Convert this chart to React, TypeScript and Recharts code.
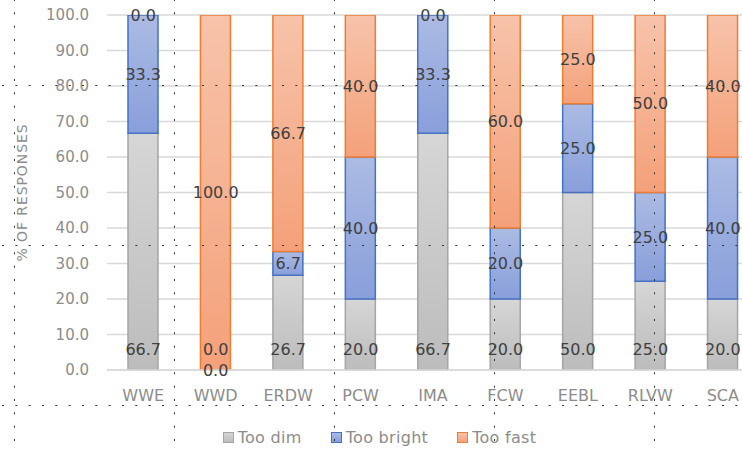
import { ComposedChart, Bar, Line, XAxis, YAxis, CartesianGrid, Legend, LabelList } from 'recharts';

const categories = ['WWE', 'WWD', 'ERDW', 'PCW', 'IMA', 'FCW', 'EEBL', 'RLVW', 'SCA'];
const tooDim = [66.7, 0.0, 26.7, 20.0, 66.7, 20.0, 50.0, 25.0, 20.0];
const tooBright = [33.3, 0.0, 6.7, 40.0, 33.3, 20.0, 25.0, 25.0, 40.0];
const tooFast = [0.0, 100.0, 66.7, 40.0, 0.0, 60.0, 25.0, 50.0, 40.0];
const yTicks = [0, 10, 20, 30, 40, 50, 60, 70, 80, 90, 100];

// label anchors (in data units) so zero-height segments still get their value shown
const data = categories.map((name, i) => ({
  name,
  dim: tooDim[i],
  bright: tooBright[i],
  fast: tooFast[i],
  dimPos: 0,
  brightPos: tooDim[i] + tooBright[i] / 2,
  fastPos: tooDim[i] + tooBright[i] + tooFast[i] / 2,
}));

const SERIES = [
  { key: 'dim', name: 'Too dim', top: '#d6d6d6', bottom: '#bcbcbc', stroke: '#a5a5a5' },
  { key: 'bright', name: 'Too bright', top: '#abbbe3', bottom: '#899fdb', stroke: '#4472c4' },
  { key: 'fast', name: 'Too fast', top: '#f7c3aa', bottom: '#f4a17a', stroke: '#ed7d31' },
];

const FONT = '"DejaVu Sans", sans-serif';
const fmt = (v: any) => Number(v).toFixed(1);

function YLabel(props: any) {
  const vb = props.viewBox || {};
  const x = vb.x + 22;
  const y = vb.y + vb.height / 2;
  return (
    <text
      x={x}
      y={y}
      transform={`rotate(-90, ${x}, ${y})`}
      textAnchor="middle"
      dominantBaseline="central"
      fill="#8c8c8c"
      fontSize={14}
      fontFamily={FONT}
      letterSpacing={0.9}
    >
      % OF RESPONSES
    </text>
  );
}

function LegendBox() {
  return (
    <div
      style={{
        height: 36,
        paddingTop: 8,
        boxSizing: 'border-box',
        display: 'flex',
        justifyContent: 'center',
        alignItems: 'center',
        gap: 29,
        fontFamily: FONT,
        fontSize: 16,
        letterSpacing: 0.3,
        color: '#8c8c8c',
      }}
    >
      {SERIES.map((s) => (
        <div key={s.key} style={{ display: 'flex', alignItems: 'center', gap: 4 }}>
          <span
            style={{
              width: 9,
              height: 9,
              border: `1.5px solid ${s.stroke}`,
              background: `linear-gradient(${s.top}, ${s.bottom})`,
              display: 'inline-block',
            }}
          />
          <span>{s.name}</span>
        </div>
      ))}
    </div>
  );
}

// dotted overlay lines seen on the picture (tile of 160px)
function DottedOverlay() {
  return (
    <svg
      width={742}
      height={451}
      style={{ position: 'absolute', left: 0, top: 0, pointerEvents: 'none' }}
    >
      <defs>
        <pattern id="dots" x={14} y={85} width={160} height={160} patternUnits="userSpaceOnUse">
          <line x1={0} y1={-6} x2={0} y2={160} stroke="#333" strokeWidth={2} strokeDasharray="2 11.333" />
          <line x1={-12} y1={0} x2={160} y2={0} stroke="#333" strokeWidth={2} strokeDasharray="2 11.333" />
        </pattern>
      </defs>
      <rect x={0} y={0} width={742} height={451} fill="url(#dots)" />
    </svg>
  );
}

const labelStyle = { fill: '#404040', fontSize: 16, fontFamily: FONT };

export default function App() {
  return (
    <div
      style={{
        position: 'fixed',
        left: 0,
        top: 0,
        width: 742,
        height: 451,
        overflow: 'hidden',
        background: '#fff',
      }}
    >
      <ComposedChart
        width={772}
        height={451}
        data={data}
        margin={{ top: 15, right: 13, left: 0, bottom: 0 }}
        barSize={30}
      >
        <defs>
          {SERIES.map((s) => (
            <linearGradient key={s.key} id={`grad-${s.key}`} x1="0" y1="0" x2="0" y2="1">
              <stop offset="0%" stopColor={s.top} />
              <stop offset="100%" stopColor={s.bottom} />
            </linearGradient>
          ))}
        </defs>
        <CartesianGrid vertical={false} stroke="#d9d9d9" strokeWidth={1.5} />
        <XAxis
          dataKey="name"
          height={45}
          tickLine={false}
          tickSize={0}
          tickMargin={20}
          axisLine={{ stroke: '#d9d9d9', strokeWidth: 1.5 }}
          tick={{ fill: '#8c8c8c', fontSize: 16, fontFamily: FONT }}
          interval={0}
        />
        <YAxis
          width={107}
          domain={[0, 100]}
          ticks={yTicks}
          tickFormatter={fmt}
          tickLine={false}
          axisLine={false}
          tickSize={0}
          tickMargin={18}
          tick={{ fill: '#8c8c8c', fontSize: 15, fontFamily: FONT }}
          label={<YLabel />}
          allowDataOverflow
        />
        <Legend verticalAlign="bottom" content={<LegendBox />} />
        {SERIES.map((s) => (
          <Bar
            key={s.key}
            dataKey={s.key}
            name={s.name}
            stackId="a"
            fill={`url(#grad-${s.key})`}
            stroke={s.stroke}
            strokeWidth={1.5}
            isAnimationActive={false}
          />
        ))}
        {SERIES.map((s) => (
          <Line
            key={`lbl-${s.key}`}
            dataKey={`${s.key}Pos`}
            stroke="none"
            dot={false}
            activeDot={false}
            legendType="none"
            isAnimationActive={false}
          >
            <LabelList
              dataKey={s.key}
              position={s.key === 'dim' ? 'top' : 'center'}
              offset={s.key === 'dim' ? 15 : 0}
              formatter={fmt}
              {...labelStyle}
            />
          </Line>
        ))}
      </ComposedChart>
      <DottedOverlay />
    </div>
  );
}
